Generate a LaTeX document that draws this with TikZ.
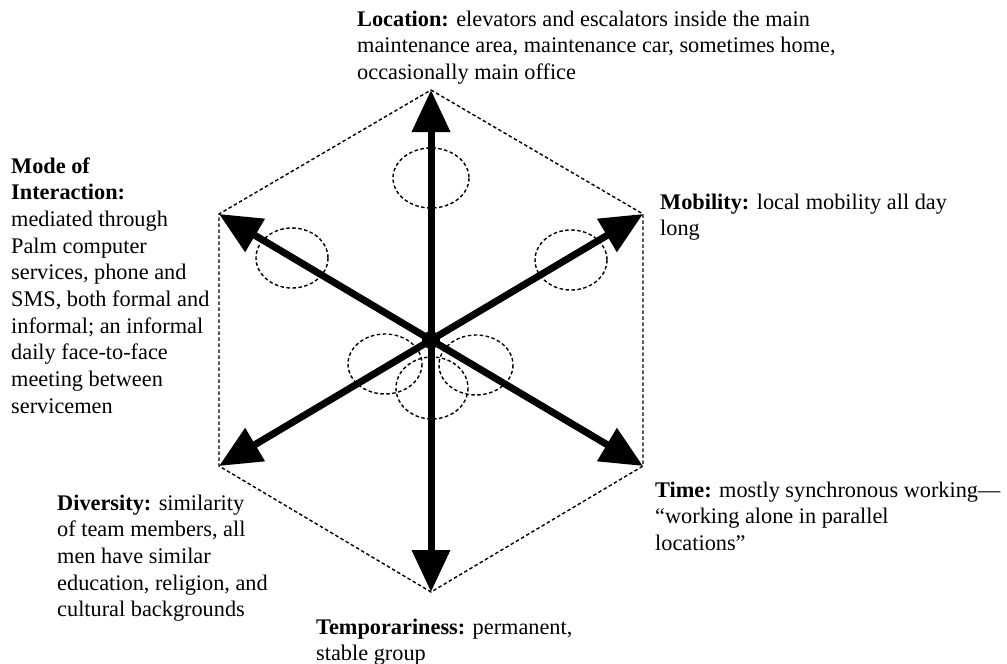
\documentclass[tikz,border=0pt]{standalone}
\usepackage{fontspec}
\setmainfont{Liberation Serif}
\usetikzlibrary{arrows.meta}
\begin{document}
\begin{tikzpicture}[x=1pt,y=-1pt,
  spoke/.style={line width=7pt,-{Triangle[length=42pt,width=37pt]}},
  rim/.style={line width=1.4pt,dash pattern=on 3.5pt off 2.5pt},
  zone/.style={draw,line width=1.4pt,dash pattern=on 3.5pt off 2.5pt},
  % captions are anchored at the baseline of their last line
  caption/.style={anchor=base west,align=left,inner sep=0pt,
    font=\fontsize{22.3}{26.7}\selectfont}
]
\useasboundingbox (0,0) rectangle (1007,664);

% hexagon corners
\coordinate (t)  at (431,90);
\coordinate (ur) at (643,214);
\coordinate (lr) at (643,466);
\coordinate (b)  at (431,592);
\coordinate (ll) at (219,466);
\coordinate (ul) at (219,214);

\draw[rim] (t) -- (ur) -- (lr) -- (b) -- (ll) -- (ul) -- cycle;

% dashed zones along the spokes
\draw[zone] (431,178) ellipse [x radius=38, y radius=30];
\draw[zone] (571,260) ellipse [x radius=36, y radius=30];
\draw[zone] (292,258) ellipse [x radius=36, y radius=30];
\draw[zone] (385,364) ellipse [x radius=37, y radius=30];
\draw[zone] (476,365) ellipse [x radius=37, y radius=30];
\draw[zone] (432,388) ellipse [x radius=36, y radius=31];

% hub and spokes
\node[circle,fill,minimum size=18pt,inner sep=0pt] (c) at (431,340) {};
\foreach \v in {t,ur,lr,b,ll,ul}
  \draw[spoke] (c.center) -- (\v);

% dimension captions
\node[caption] (loc) at (357,79.4)
  {\textbf{Location:} elevators and escalators inside the main\\
   maintenance area, maintenance car, sometimes home,\\
   occasionally main office};
\node[caption] (mode) at (11,413.3)
  {\textbf{Mode of}\\\textbf{Interaction:}\\mediated through\\Palm computer\\
   services, phone and\\SMS, both formal and\\informal; an informal\\
   daily face-to-face\\meeting between\\servicemen};
\node[caption] (mob) at (660,235.7)
  {\textbf{Mobility:} local mobility all day\\long};
\node[caption] (time) at (655,550.4)
  {\textbf{Time:} mostly synchronous working—\\“working alone in parallel\\locations”};
\node[caption] (div) at (57,616.8)
  {\textbf{Diversity:} similarity\\of team members, all\\men have similar\\
   education, religion, and\\cultural backgrounds};
\node[caption] (temp) at (316,660.7)
  {\textbf{Temporariness:} permanent,\\stable group};
\end{tikzpicture}
\end{document}
